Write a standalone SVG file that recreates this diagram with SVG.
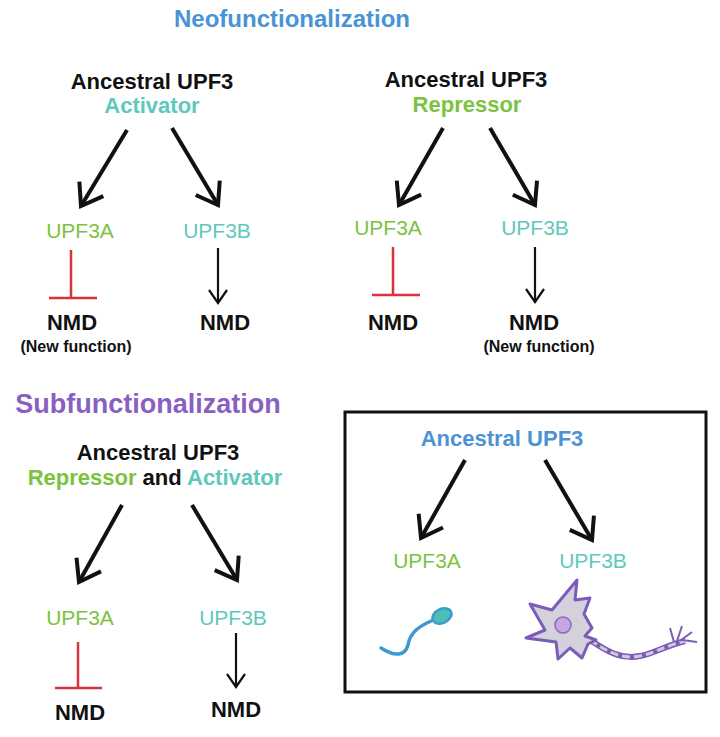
<svg xmlns="http://www.w3.org/2000/svg" width="720" height="737" viewBox="0 0 720 737">
<style>
text{font-family:"Liberation Sans",Arial,sans-serif;text-anchor:middle}
.anc{font-size:22px;font-weight:bold;fill:#111}
.g{fill:#7cc241}.t{fill:#5ec8bd}.b{fill:#4a93d4}
.gene{font-size:21px}
.nmd{font-size:22px;font-weight:bold;fill:#111}
.nf{font-size:16px;font-weight:bold;fill:#111}
.big{stroke:#111;stroke-width:4;fill:none;marker-end:url(#bigA)}
.sm{stroke:#111;stroke-width:2.2;fill:none;marker-end:url(#smA)}
.inh{stroke:#d9323f;stroke-width:2.5;fill:none}
</style>
<defs>
<marker id="bigA" markerUnits="userSpaceOnUse" viewBox="-24 -16 28 32" markerWidth="28" markerHeight="32" refX="0" refY="0" orient="auto">
<path d="M-20,-14 L0,0 L-20,14" fill="none" stroke="#111" stroke-width="4"/>
</marker>
<marker id="smA" markerUnits="userSpaceOnUse" viewBox="-16 -12 18 24" markerWidth="18" markerHeight="24" refX="0" refY="0" orient="auto">
<path d="M-13,-9 L0,0 L-13,9" fill="none" stroke="#111" stroke-width="2.2"/>
</marker>
</defs>
<rect width="720" height="737" fill="#fff"/>
<text x="292" y="27" font-size="24" font-weight="bold" fill="#4a93d4">Neofunctionalization</text>
<text x="148" y="413" font-size="27" font-weight="bold" fill="#8a5fc2">Subfunctionalization</text>
<rect x="345" y="412" width="361" height="280" fill="none" stroke="#111" stroke-width="3"/>
<g id="connectors">
<line class="big" x1="127" y1="130" x2="81" y2="206"/>
<line class="big" x1="172" y1="128" x2="218" y2="205"/>
<line class="inh" x1="71" y1="250" x2="71" y2="298"/><line class="inh" x1="49" y1="298" x2="97" y2="298"/>
<line class="sm" x1="218" y1="248" x2="218" y2="303"/>
<line class="big" x1="443" y1="128" x2="399" y2="205"/>
<line class="big" x1="490" y1="128" x2="535" y2="205"/>
<line class="inh" x1="393" y1="247" x2="393" y2="295"/><line class="inh" x1="372" y1="295" x2="420" y2="295"/>
<line class="sm" x1="535" y1="247" x2="535" y2="302"/>
<line class="big" x1="122" y1="505" x2="79" y2="582"/>
<line class="big" x1="192" y1="505" x2="237" y2="580"/>
<line class="inh" x1="78" y1="642" x2="78" y2="688"/><line class="inh" x1="55" y1="688" x2="102" y2="688"/>
<line class="sm" x1="236" y1="633" x2="236" y2="687"/>
<line class="big" x1="465" y1="460" x2="421" y2="538"/>
<line class="big" x1="545" y1="460" x2="592" y2="540"/>
</g>
<g id="neo-activator">
<text class="anc" x="152" y="89">Ancestral UPF3</text>
<text class="anc t" x="152" y="113">Activator</text>
</g>
<g id="neo-act-upf3a"><text class="gene g" x="80" y="238">UPF3A</text></g>
<g id="neo-act-upf3b"><text class="gene t" x="217" y="238">UPF3B</text></g>
<g id="neo-act-nmd-a"><text class="nmd" x="72" y="330">NMD</text><text class="nf" x="76" y="352">(New function)</text></g>
<g id="neo-act-nmd-b"><text class="nmd" x="225" y="330">NMD</text></g>
<g id="neo-repressor">
<text class="anc" x="466" y="87">Ancestral UPF3</text>
<text class="anc g" x="467" y="112">Repressor</text>
</g>
<g id="neo-rep-upf3a"><text class="gene g" x="388" y="235">UPF3A</text></g>
<g id="neo-rep-upf3b"><text class="gene t" x="535" y="235">UPF3B</text></g>
<g id="neo-rep-nmd-a"><text class="nmd" x="393" y="330">NMD</text></g>
<g id="neo-rep-nmd-b"><text class="nmd" x="534" y="330">NMD</text><text class="nf" x="539" y="352">(New function)</text></g>
<g id="sub-ancestral">
<text class="anc" x="158" y="460">Ancestral UPF3</text>
<text class="anc" x="155" y="485"><tspan class="g">Repressor</tspan> and <tspan class="t">Activator</tspan></text>
</g>
<g id="sub-upf3a"><text class="gene g" x="80" y="625">UPF3A</text></g>
<g id="sub-upf3b"><text class="gene t" x="233" y="625">UPF3B</text></g>
<g id="sub-nmd-a"><text class="nmd" x="80" y="720">NMD</text></g>
<g id="sub-nmd-b"><text class="nmd" x="236" y="717">NMD</text></g>
<g id="box-ancestral"><text class="anc b" x="502" y="446">Ancestral UPF3</text></g>
<g id="box-upf3a"><text class="gene g" x="427" y="568">UPF3A</text></g>
<g id="box-upf3b"><text class="gene t" x="593" y="568">UPF3B</text></g>
<g id="sperm">
<path d="M431,621 C420,626 410,632 408,645 C405,656 395,657 381,648" fill="none" stroke="#3d9ad0" stroke-width="3.5" stroke-linecap="round"/>
<ellipse cx="442" cy="616" rx="10" ry="7" transform="rotate(-25 442 616)" fill="#4bc0b4" stroke="#3d9ad0" stroke-width="2.5"/>
</g>
<g id="neuron">
<path d="M590,640 C605,650 620,660 640,656 C655,653 665,646 685,641" fill="none" stroke="#7b5cb8" stroke-width="6"/>
<path d="M590,640 C605,650 620,660 640,656 C655,653 665,646 685,641" fill="none" stroke="#cfc9dd" stroke-width="3" stroke-dasharray="8 4"/>
<path d="M674,642 L670,628 M677,641 L682,626 M680,641 L692,632 M682,640 L697,642" stroke="#7b5cb8" stroke-width="2" fill="none"/>
<path d="M577,580 L575,600 L590,598 L584,614 L592,628 L585,636 L596,640 L588,644 L582,658 L570,648 L558,659 L556,642 L526,638 L545,630 L530,604 L552,610 Z" fill="#d4d0dc" stroke="#7b5cb8" stroke-width="3" stroke-linejoin="round"/>
<circle cx="563" cy="625" r="8" fill="#c6a6e0" stroke="#8a68c0" stroke-width="1.5"/>
</g>
</svg>
